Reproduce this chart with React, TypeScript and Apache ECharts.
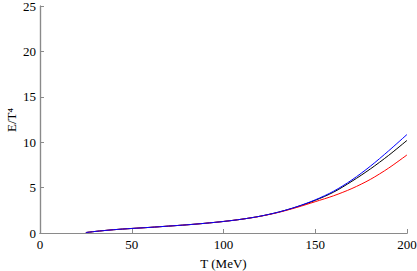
import React, { useEffect, useRef } from "react";
import * as echarts from "echarts";

const temps = [25, 30, 40, 50, 60, 70, 80, 90, 100, 110, 120, 130, 140, 150, 160, 170, 180, 190, 200];
const blackVals = [0.05, 0.17, 0.36, 0.5, 0.62, 0.76, 0.9, 1.07, 1.27, 1.52, 1.85, 2.3, 2.88, 3.6, 4.5, 5.7, 7.05, 8.55, 10.2];
const redVals = [0.05, 0.17, 0.36, 0.5, 0.62, 0.76, 0.9, 1.07, 1.27, 1.52, 1.84, 2.27, 2.82, 3.45, 4.1, 4.9, 5.9, 7.15, 8.6];
const blueVals = [0.05, 0.17, 0.36, 0.5, 0.62, 0.76, 0.9, 1.07, 1.27, 1.52, 1.85, 2.3, 2.9, 3.65, 4.6, 5.85, 7.35, 9.05, 10.85];
const yAxisTitle = "E/T⁴";
const xAxisTitle = "T (MeV)";

const pair = (v: number[]) => temps.map((t, i) => [t, v[i]]);

export default function App() {
  const ref = useRef<HTMLDivElement>(null);
  useEffect(() => {
    const chart = echarts.init(ref.current!, null, { renderer: "svg" });
    const font = "Liberation Serif";
    const axisLine = { show: true, lineStyle: { color: "#8a8a8a", width: 1.2 } };
    const tick = { show: true, inside: true, length: 4, lineStyle: { color: "#8a8a8a" } };
    chart.setOption({
      animation: false,
      textStyle: { fontFamily: font },
      grid: { left: 40, right: 10, top: 6, bottom: 38, containLabel: false, outerBoundsMode: "none" },
      graphic: [
        {
          type: "text", x: 11, y: 120, rotation: Math.PI / 2,
          style: { text: yAxisTitle, fontFamily: font, fontSize: 13, fill: "#000", align: "center", verticalAlign: "middle" },
        },
      ],
      xAxis: [
        {
          type: "value", min: 0, max: 200, interval: 50,
          name: xAxisTitle, nameLocation: "middle", nameGap: 24,
          nameTextStyle: { fontFamily: font, fontSize: 13, color: "#000" },
          axisLine, axisTick: tick,
          axisLabel: { fontFamily: font, fontSize: 13, color: "#000", margin: 5 },
          splitLine: { show: false },
        },
        {
          type: "value", min: 0, max: 200, position: "top",
          axisLine, axisTick: { show: false }, axisLabel: { show: false }, splitLine: { show: false },
        },
      ],
      yAxis: [
        {
          type: "value", min: 0, max: 25, interval: 5,
          axisLine, axisTick: tick,
          axisLabel: { fontFamily: font, fontSize: 13, color: "#000", margin: 4 },
          splitLine: { show: false },
        },
        {
          type: "value", min: 0, max: 25, position: "right",
          axisLine, axisTick: { show: false }, axisLabel: { show: false }, splitLine: { show: false },
        },
      ],
      series: [
        { type: "line", data: pair(blackVals), smooth: 0.3, showSymbol: false, lineStyle: { color: "#000", width: 1 } },
        { type: "line", data: pair(redVals), smooth: 0.3, showSymbol: false, lineStyle: { color: "#ff0000", width: 1 } },
        { type: "line", data: pair(blueVals), smooth: 0.3, showSymbol: false, lineStyle: { color: "#0000ff", width: 1 } },
      ],
    });
    return () => chart.dispose();
  }, []);
  return <div ref={ref} style={{ width: 417, height: 271, position: "absolute", left: 0, top: 0, background: "#fff" }} />;
}
